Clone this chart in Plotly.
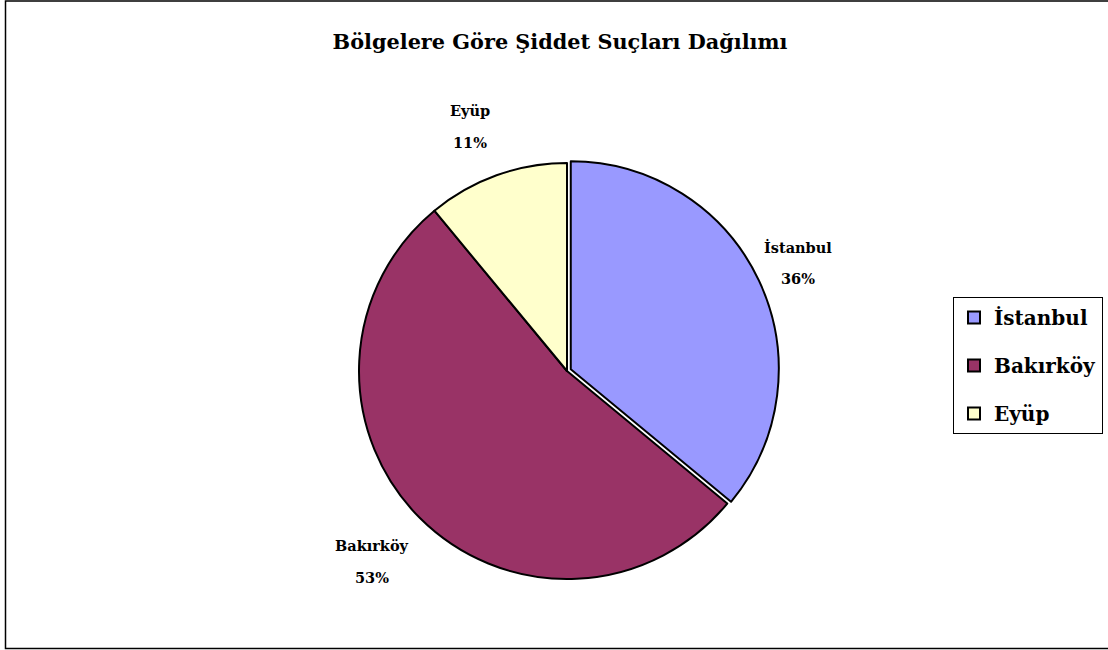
import math
import plotly.graph_objects as go

bolgeler = ["İstanbul", "Bakırköy", "Eyüp"]
yuzdeler = [36, 53, 11]
renkler = ["#9999FF", "#993366", "#FFFFCC"]
baslik = "Bölgelere Göre Şiddet Suçları Dağılımı"

W, H = 1108, 650
FONT = "DejaVu Serif"

# pie placement (pixels)
cx, cy, r = 567, 371, 208
pull = 0.02
r0 = r * (1 + pull)
dom_x = [(cx - r0) / W, (cx + r0) / W]
dom_y = [1 - (cy + r0) / H, 1 - (cy - r0) / H]

fig = go.Figure()

fig.add_trace(
    go.Pie(
        labels=bolgeler,
        values=yuzdeler,
        marker=dict(colors=renkler, line=dict(color="black", width=2)),
        sort=False,
        direction="clockwise",
        rotation=0,
        pull=[pull, 0, 0],
        textinfo="none",
        hoverinfo="label+percent",
        showlegend=False,
        domain=dict(x=dom_x, y=dom_y)
    )
)

# legend entries as dummy markers so spacing can match
for ad, renk in zip(bolgeler, renkler):
    fig.add_trace(
        go.Scatter(
            x=[None],
            y=[None],
            mode="markers",
            name=ad,
            legendgroup=ad,
            marker=dict(symbol="square", size=14, color=renk,
                        line=dict(color="black", width=2))
        )
    )

# data labels placed outside each slice (name line + percent line)
toplam = sum(yuzdeler)
bas = 0
etiket_font = dict(family=FONT, size=14.5, color="black", weight="bold")
for ad, deger in zip(bolgeler, yuzdeler):
    orta = (bas + deger / 2) / toplam * 2 * math.pi
    bas += deger
    px = cx + r * 1.27 * math.sin(orta) - 8
    py = cy - r * 1.27 * math.cos(orta) + 4
    for satir, dy in [(ad, -16), (f"{round(deger / toplam * 100)}%", 16)]:
        fig.add_annotation(
            x=px / W,
            y=1 - (py + dy) / H,
            xref="paper",
            yref="paper",
            text=satir,
            showarrow=False,
            xanchor="center",
            yanchor="middle",
            font=etiket_font
        )

# chart border
fig.add_shape(
    type="rect",
    xref="paper",
    yref="paper",
    x0=5.5 / W,
    x1=1.01,
    y0=1.5 / H,
    y1=1 - 1 / H,
    line=dict(color="black", width=1.5)
)

fig.update_layout(
    width=W,
    height=H,
    title=dict(
        text=baslik,
        x=560 / W,
        xanchor="center",
        y=1 - 42 / H,
        yanchor="middle",
        font=dict(family=FONT, size=20.8, color="black", weight="bold")
    ),
    xaxis=dict(visible=False),
    yaxis=dict(visible=False),
    legend=dict(
        x=953 / W,
        y=1 - 297 / H,
        xanchor="left",
        yanchor="top",
        bordercolor="black",
        borderwidth=1,
        tracegroupgap=19,
        itemwidth=30,
        font=dict(family=FONT, size=20, color="black", weight="bold"),
        itemsizing="constant"
    ),
    plot_bgcolor="white",
    paper_bgcolor="white",
    margin=dict(l=0, r=0, t=0, b=0)
)

fig.write_html(
    "out.html",
    config=dict(displayModeBar=False),
    post_script="document.body.style.margin='0';"
)
